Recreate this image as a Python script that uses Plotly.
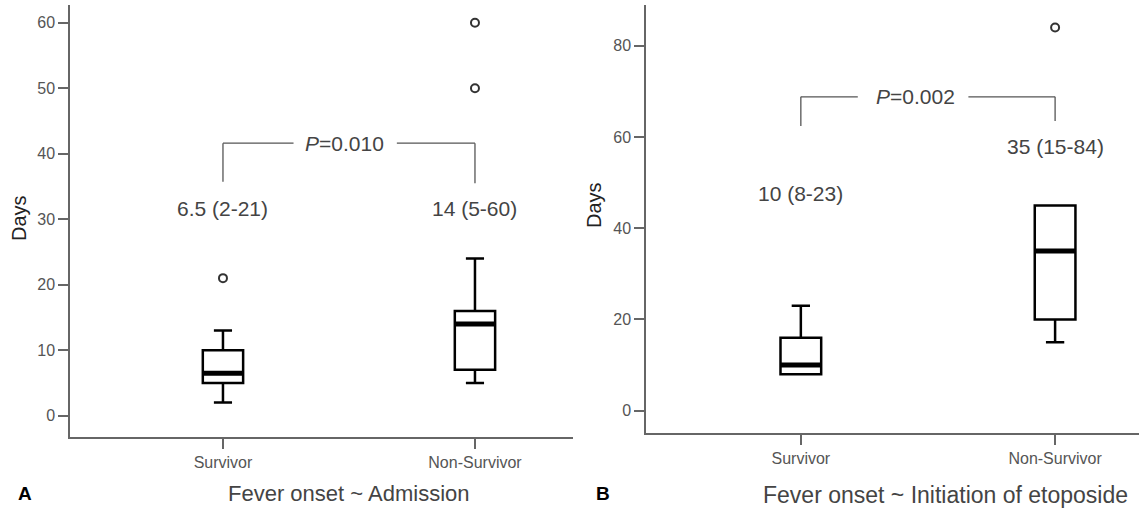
import plotly.graph_objects as go

W, H = 1139, 510

categories = ["Survivor", "Non-Survivor"]

# Panel A: Fever onset ~ Admission
a_low = [2, 5]
a_q1 = [5, 7]
a_median = [6.5, 14]
a_q3 = [10, 16]
a_high = [13, 24]
a_out_x = ["Survivor", "Non-Survivor", "Non-Survivor"]
a_out_y = [21, 50, 60]
a_labels = ["6.5 (2-21)", "14 (5-60)"]
a_label_y = [31.7, 31.7]
a_p_text = "<i>P</i>=0.010"
a_bracket_top = 41.6
a_bracket_bottom = [35.7, 35.5]

# Panel B: Fever onset ~ Initiation of etoposide
b_low = [8, 15]
b_q1 = [8, 20]
b_median = [10, 35]
b_q3 = [16, 45]
b_high = [23, 45]
b_out_x = ["Non-Survivor"]
b_out_y = [84]
b_labels = ["10 (8-23)", "35 (15-84)"]
b_label_y = [47.6, 58.0]
b_p_text = "<i>P</i>=0.002"
b_bracket_top = 68.8
b_bracket_bottom = [62.4, 63.5]

FONT = "Liberation Sans"
TXT = "#444444"
AX = "#666666"

fig = go.Figure()


def add_panel(xa, ya, low, q1, med, q3, high, ox, oy):
    fig.add_trace(go.Box(
        x=categories, q1=q1, median=med, q3=q3, lowerfence=low, upperfence=high,
        xaxis=xa, yaxis=ya, fillcolor="white", line=dict(color="black", width=2.5),
        width=0.16, whiskerwidth=0.45, boxpoints=False, showlegend=False,
        hoverinfo="skip"))
    # thick median bar
    fig.add_trace(go.Box(
        x=categories, q1=med, median=med, q3=med, lowerfence=med, upperfence=med,
        xaxis=xa, yaxis=ya, fillcolor="black", line=dict(color="black", width=5),
        width=0.16, whiskerwidth=0.45, boxpoints=False, showlegend=False,
        hoverinfo="skip"))
    fig.add_trace(go.Scatter(
        x=ox, y=oy, xaxis=xa, yaxis=ya, mode="markers", showlegend=False,
        marker=dict(symbol="circle-open", size=8, color="#333333",
                    line=dict(width=2, color="#333333")),
        hoverinfo="skip"))


add_panel("x", "y", a_low, a_q1, a_median, a_q3, a_high, a_out_x, a_out_y)
add_panel("x2", "y2", b_low, b_q1, b_median, b_q3, b_high, b_out_x, b_out_y)

axis_common = dict(showline=True, linecolor=AX, linewidth=1.5, ticks="outside",
                   ticklen=10, tickwidth=1.5, tickcolor=AX, showgrid=False,
                   zeroline=False, tickfont=dict(family=FONT, size=16, color="#555555"))

fig.update_layout(
    width=W, height=H, margin=dict(l=0, r=0, t=0, b=0),
    paper_bgcolor="white", plot_bgcolor="white", boxmode="overlay",
    xaxis=dict(domain=[70 / W, 573 / W], anchor="y", type="category",
               categoryorder="array", categoryarray=categories,
               range=[-0.607, 1.389], **axis_common),
    yaxis=dict(domain=[1 - 437 / H, 1 - 5 / H], anchor="x", range=[-3.25, 62.7],
               dtick=10, **axis_common),
    xaxis2=dict(domain=[646 / W, 1.0], anchor="y2", type="category",
                categoryorder="array", categoryarray=categories,
                range=[-0.609, 1.33], **axis_common),
    yaxis2=dict(domain=[1 - 433 / H, 1 - 5 / H], anchor="x2", range=[-4.88, 88.92],
                dtick=20, **axis_common),
)

shapes = []
annotations = []


def bracket(xr, yr, top, bottoms, gap, ptext, pcenter):
    line = dict(color="#555555", width=1.3)
    shapes.append(dict(type="line", xref=xr, yref=yr, x0=0, x1=0, y0=bottoms[0], y1=top, line=line))
    shapes.append(dict(type="line", xref=xr, yref=yr, x0=0, x1=gap[0], y0=top, y1=top, line=line))
    shapes.append(dict(type="line", xref=xr, yref=yr, x0=gap[1], x1=1, y0=top, y1=top, line=line))
    shapes.append(dict(type="line", xref=xr, yref=yr, x0=1, x1=1, y0=top, y1=bottoms[1], line=line))
    annotations.append(dict(xref=xr, yref=yr, x=pcenter, y=top, text=ptext, showarrow=False,
                            font=dict(family=FONT, size=21, color=TXT),
                            xanchor="center", yanchor="middle"))


bracket("x", "y", a_bracket_top, a_bracket_bottom, (0.28, 0.69), a_p_text, 0.484)
bracket("x2", "y2", b_bracket_top, b_bracket_bottom, (0.224, 0.659), b_p_text, 0.45)

for xr, yr, labs, ys in (("x", "y", a_labels, a_label_y), ("x2", "y2", b_labels, b_label_y)):
    for i, (t, yv) in enumerate(zip(labs, ys)):
        annotations.append(dict(xref=xr, yref=yr, x=i, y=yv, text=t, showarrow=False,
                                font=dict(family=FONT, size=21, color=TXT),
                                xanchor="center", yanchor="middle"))


def paper_text(px, py, text, size, color=TXT, angle=0, bold=False):
    annotations.append(dict(xref="paper", yref="paper", x=px / W, y=1 - py / H,
                            text=f"<b>{text}</b>" if bold else text, showarrow=False,
                            textangle=angle, xanchor="center", yanchor="middle",
                            font=dict(family=FONT, size=size, color=color)))


paper_text(349, 493, "Fever onset ~ Admission", 22)
paper_text(945, 495, "Fever onset ~ Initiation of etoposide", 23)
paper_text(25, 493, "A", 19, color="black", bold=True)
paper_text(603, 493, "B", 19, color="black", bold=True)
paper_text(19, 218, "Days", 20, color="#222222", angle=-90)
paper_text(594, 205, "Days", 20, color="#222222", angle=-90)

fig.update_layout(shapes=shapes, annotations=annotations)

fig.write_html("out.html", config={"displayModeBar": False},
               post_script="document.body.style.margin='0';document.body.style.overflow='hidden';")
